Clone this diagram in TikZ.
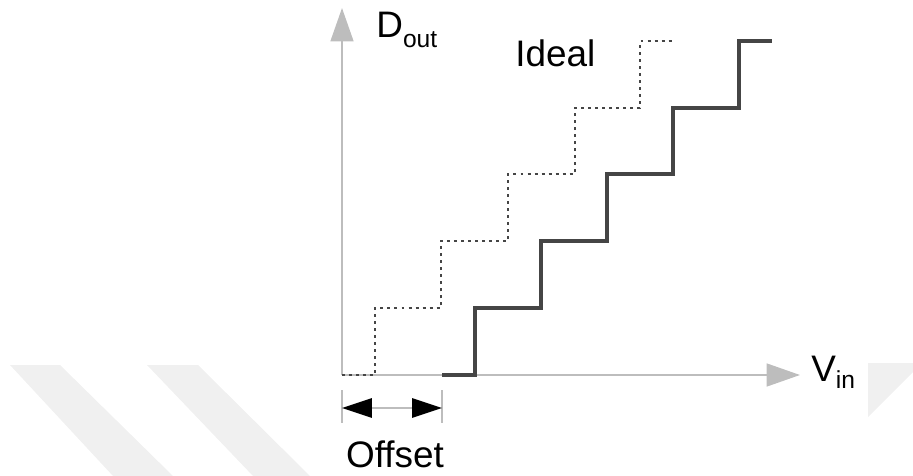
\documentclass[tikz,border=0pt]{standalone}
\usepackage{fontspec}
\setmainfont{Liberation Sans}
\usetikzlibrary{arrows.meta}
\definecolor{axisgray}{gray}{0.74}
\definecolor{stepgray}{gray}{0.27}
\definecolor{markgray}{gray}{0.94}

\begin{document}
\begin{tikzpicture}[x=0.02cm,y=-0.02cm, every node/.style={inner sep=0pt,font=\fontsize{21}{25}\selectfont},
  axis/.style={axisgray,line width=1.2pt,-{Triangle[length=19pt,width=13pt]}},
  ideal/.style={stepgray,line width=1.4pt,dash pattern=on 1.7pt off 2.3pt},
  real/.style={stepgray,line width=2pt},
  dim/.style={axisgray,line width=1pt}]
\useasboundingbox (0,0) rectangle (913,476);
\fill[markgray] (10,365) -- (60,365) -- (173,476) -- (113,476) -- cycle;
\fill[markgray] (147,365) -- (198,365) -- (310,476) -- (253,476) -- cycle;
\fill[markgray] (868,363) -- (913,363) -- (913,372) -- (868,417) -- cycle;

\coordinate (o) at (342,375);
\coordinate (ytip) at (342,8);
\coordinate (xtip) at (800,375);
\draw[axis] (o) -- (ytip);
\draw[axis] (o) -- (xtip);

\draw[ideal] (o) -- (375,375) -- (375,308) -- (441,308) -- (441,241) -- (508,241) -- (508,174) -- (575,174) -- (575,108) -- (640,108) -- (640,41) -- (672,41);
\draw[real] (442,375) -- (475,375) -- (475,308) -- (541,308) -- (541,241) -- (607,241) -- (607,174) -- (673,174) -- (673,108) -- (739,108) -- (739,41) -- (772,41);

\node[anchor=base west] (dout) at (376,38) {D\raisebox{-5.5pt}{\fontsize{14}{16}\selectfont out}};
\node[anchor=base west] (ideallbl) at (515,67) {Ideal};
\node[anchor=base west] (vin) at (811,381) {V\raisebox{-4.5pt}{\fontsize{14}{16}\selectfont in}};

\coordinate (offl) at (342,408);
\coordinate (offr) at (442,408);
\draw[dim] (342,390) -- (342,423);
\draw[dim] (442,390) -- (442,423);
\draw[dim,{Triangle[length=17pt,width=11pt,black]}-{Triangle[length=17pt,width=11pt,black]}] (offl) -- (offr);
\node[anchor=base] (offset) at (395,467) {Offset};
\end{tikzpicture}
\end{document}
